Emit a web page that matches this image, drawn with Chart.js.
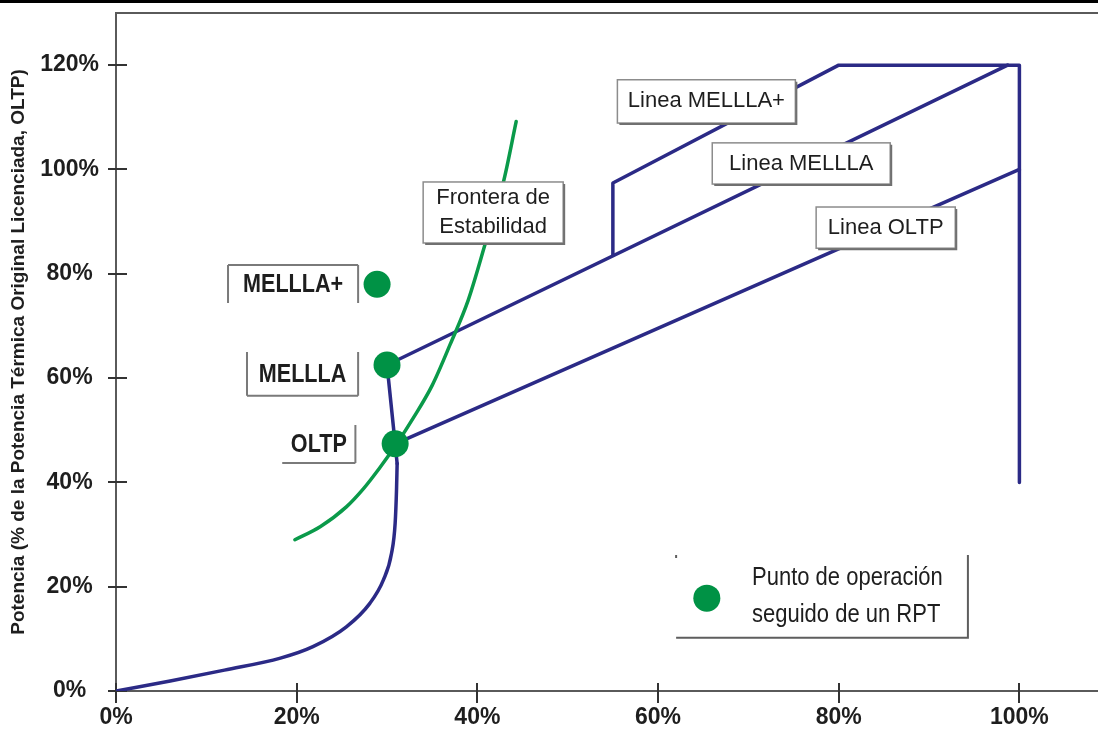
<!DOCTYPE html>
<html lang="es">
<head>
<meta charset="UTF-8">
<title>Mapa potencia - flujo</title>
<script src="https://cdn.jsdelivr.net/npm/chart.js"></script>
<style>
  html, body { margin: 0; padding: 0; background: #fff; overflow: hidden; }
  #wrap { position: relative; width: 1098px; height: 732px; }
</style>
</head>
<body>
<div id="wrap"><canvas id="mapa"></canvas></div>
<script>
// curva de arranque (barras de control)
const rodX = [0, 6.0, 12.0, 18.2, 21.8, 25.5, 28.1, 29.6, 30.5, 30.9, 31.05, 31.12];
const rodY = [0, 1.9, 4.0, 6.3, 8.5, 12.3, 16.8, 21.3, 26.4, 32.2, 38.5, 43.6];
// tramo hasta OLTP y de OLTP a MELLLA
const stepX = [31.12, 30.9, 30.0];
const stepY = [43.6, 47.4, 62.5];
// lineas de control de flujo
const oltpX = [30.9, 100];
const oltpY = [47.4, 100];
const mellaX = [30.0, 98.7];
const mellaY = [62.5, 120];
const mellaPlusX = [55, 55, 80, 100, 100];
const mellaPlusY = [83.5, 97.4, 120, 120, 40];
// frontera de estabilidad
const stabX = [19.8, 22.6, 25.5, 27.4, 29.2, 31.0, 33.0, 35.0, 37.0, 39.0, 41.0, 42.9, 44.3];
const stabY = [29.0, 31.5, 35.3, 38.8, 42.8, 47.2, 52.6, 58.6, 66.5, 75.0, 86.5, 97.7, 109.2];
// puntos de operacion seguidos de un RPT
const opNames = ['OLTP', 'MELLLA', 'MELLLA+'];
const opX = [30.9, 30.0, 28.9];
const opY = [47.4, 62.5, 78.0];
// ejes
const xMax = 108.7;
const yMax = 130;
const tickStep = 20;

const BLUE = '#2b2a86';
const GREEN = '#0a9a4a';
const DOT = '#009245';
const AXIS = '#5a5a5a';
const TXT = '#1e1e1e';
const FONT = '"Liberation Sans", Arial, sans-serif';

const pts = (xs, ys) => xs.map((x, i) => ({ x, y: ys[i] }));

// cajas de texto, en unidades de datos
const boxes = [
  { lines: ['Linea MELLLA+'], x0: 55.5, x1: 75.2, y0: 108.9, y1: 117.2 },
  { lines: ['Linea MELLLA'], x0: 66.0, x1: 85.7, y0: 97.2, y1: 105.1 },
  { lines: ['Linea OLTP'], x0: 77.5, x1: 92.9, y0: 84.9, y1: 92.8 },
  { lines: ['Frontera de', 'Estabilidad'], x0: 34.0, x1: 49.5, y0: 85.9, y1: 97.6 }
];
const brackets = [
  { text: opNames[2], x0: 12.4, x1: 26.8, y0: 74.4, y1: 81.7, sides: 'tlr' },
  { text: opNames[1], x0: 14.5, x1: 26.8, y0: 56.6, y1: 65.0, sides: 'lrb' },
  { text: opNames[0], x0: 18.4, x1: 26.5, y0: 43.7, y1: 51.0, sides: 'rb' }
];
const legendBox = { x0: 62.0, x1: 94.3, y0: 10.2, y1: 26.1, dotX: 65.4, dotY: 17.8, textX: 70.4,
  lines: ['Punto de operación', 'seguido de un RPT'], lineY: [21.7, 14.6] };

// texto algo estrecho, como en el original
function narrowText(ctx, s, x, y, sx) {
  ctx.save();
  ctx.translate(x, y);
  ctx.scale(sx, 1);
  ctx.fillText(s, 0, 0);
  ctx.restore();
}

const frame = {
  id: 'frame',
  beforeDatasetsDraw(chart) {
    const { ctx, chartArea: a, scales: { x, y } } = chart;
    ctx.save();
    ctx.fillStyle = '#000';
    ctx.fillRect(0, 0, chart.width, 3);
    ctx.strokeStyle = AXIS;
    ctx.lineWidth = 2;
    ctx.beginPath();
    ctx.moveTo(a.left, a.top); ctx.lineTo(a.right, a.top);
    ctx.stroke();
    ctx.strokeStyle = '#333';
    ctx.beginPath();
    x.ticks.forEach(t => {
      const p = Math.round(x.getPixelForValue(t.value));
      ctx.moveTo(p, a.bottom - 8); ctx.lineTo(p, a.bottom + 12);
    });
    y.ticks.forEach(t => {
      const p = Math.round(y.getPixelForValue(t.value));
      ctx.moveTo(a.left - 8, p); ctx.lineTo(a.left + 11, p);
    });
    ctx.stroke();
    ctx.restore();
  }
};

const notes = {
  id: 'notes',
  afterDatasetsDraw(chart) {
    const { ctx, scales: { x, y } } = chart;
    ctx.save();
    ctx.textAlign = 'center';
    ctx.textBaseline = 'middle';
    boxes.forEach(b => {
      const l = x.getPixelForValue(b.x0), r = x.getPixelForValue(b.x1);
      const t = y.getPixelForValue(b.y1), bt = y.getPixelForValue(b.y0);
      ctx.fillStyle = '#fff';
      ctx.fillRect(l, t, r - l, bt - t);
      ctx.strokeStyle = '#8c8c8c';
      ctx.lineWidth = 1.5;
      ctx.strokeRect(l, t, r - l, bt - t);
      ctx.strokeStyle = '#707070';
      ctx.lineWidth = 2;
      ctx.beginPath();
      ctx.moveTo(r + 1, t + 2); ctx.lineTo(r + 1, bt + 1); ctx.lineTo(l + 2, bt + 1);
      ctx.stroke();
      ctx.fillStyle = TXT;
      ctx.font = '22px ' + FONT;
      const cx = (l + r) / 2, cy = (t + bt) / 2, lh = 29;
      b.lines.forEach((s, i) => ctx.fillText(s, cx, cy + (i - (b.lines.length - 1) / 2) * lh));
    });
    brackets.forEach(b => {
      const l = x.getPixelForValue(b.x0), r = x.getPixelForValue(b.x1);
      const t = y.getPixelForValue(b.y1), bt = y.getPixelForValue(b.y0);
      ctx.strokeStyle = '#7a7a7a';
      ctx.lineWidth = 2;
      ctx.beginPath();
      if (b.sides.includes('t')) { ctx.moveTo(l, t); ctx.lineTo(r, t); }
      if (b.sides.includes('l')) { ctx.moveTo(l, t); ctx.lineTo(l, bt); }
      if (b.sides.includes('r')) { ctx.moveTo(r, t); ctx.lineTo(r, bt); }
      if (b.sides.includes('b')) { ctx.moveTo(l, bt); ctx.lineTo(r, bt); }
      ctx.stroke();
      ctx.fillStyle = TXT;
      ctx.font = 'bold 26px ' + FONT;
      narrowText(ctx, b.text, (l + r) / 2, (t + bt) / 2 + 1, 0.83);
    });
    // leyenda
    const g = legendBox;
    const l = x.getPixelForValue(g.x0), r = x.getPixelForValue(g.x1);
    const t = y.getPixelForValue(g.y1), bt = y.getPixelForValue(g.y0);
    ctx.strokeStyle = '#5e5e5e';
    ctx.lineWidth = 2;
    ctx.beginPath();
    ctx.moveTo(l, t); ctx.lineTo(l, t + 3);
    ctx.moveTo(r, t); ctx.lineTo(r, bt); ctx.lineTo(l, bt);
    ctx.stroke();
    ctx.fillStyle = DOT;
    ctx.beginPath();
    ctx.arc(x.getPixelForValue(g.dotX), y.getPixelForValue(g.dotY), 13.5, 0, Math.PI * 2);
    ctx.fill();
    ctx.fillStyle = TXT;
    ctx.textAlign = 'left';
    ctx.font = '25px ' + FONT;
    g.lines.forEach((s, i) => narrowText(ctx, s, x.getPixelForValue(g.textX), y.getPixelForValue(g.lineY[i]), 0.88));
    ctx.restore();
  }
};

const line = (data, color, width, order, mono) => ({
  data, showLine: true, borderColor: color, borderWidth: width, pointRadius: 0,
  cubicInterpolationMode: mono ? 'monotone' : 'default', tension: 0,
  order, borderCapStyle: 'round', borderJoinStyle: 'round'
});

new Chart(document.getElementById('mapa'), {
  type: 'scatter',
  data: {
    datasets: [
      { label: 'Punto de operación seguido de un RPT', data: pts(opX, opY),
        backgroundColor: DOT, borderWidth: 0, pointRadius: 13.5, order: 0 },
      line(pts(stabX, stabY), GREEN, 3.5, 1, true),
      line(pts(rodX, rodY), BLUE, 3.5, 2, true),
      line(pts(stepX, stepY), BLUE, 3.5, 2, false),
      line(pts(oltpX, oltpY), BLUE, 3.5, 2, false),
      line(pts(mellaX, mellaY), BLUE, 3.5, 2, false),
      line(pts(mellaPlusX, mellaPlusY), BLUE, 3.5, 2, false)
    ]
  },
  options: {
    responsive: true,
    maintainAspectRatio: false,
    animation: false,
    layout: { autoPadding: false, padding: { top: 13, left: 0, right: 0, bottom: 0 } },
    plugins: { legend: { display: false }, tooltip: { enabled: false } },
    scales: {
      x: {
        min: 0, max: xMax,
        grid: { drawOnChartArea: false, drawTicks: false },
        border: { color: AXIS, width: 2 },
        ticks: { stepSize: tickStep, includeBounds: false, padding: 13, color: TXT,
          font: { family: FONT, size: 23, weight: 'bold' }, callback: v => v + '%' },
        afterFit: s => { s.height = 41; s.paddingLeft = 0; s.paddingRight = 0; }
      },
      y: {
        min: 0, max: yMax,
        grid: { drawOnChartArea: false, drawTicks: false },
        border: { color: AXIS, width: 2 },
        ticks: { stepSize: tickStep, includeBounds: false, padding: 17, crossAlign: 'center', color: TXT,
          font: { family: FONT, size: 23, weight: 'bold' }, callback: v => v + '%' },
        title: { display: true, text: 'Potencia (% de la Potencia Térmica Original Licenciada, OLTP)',
          color: TXT, padding: { top: 7, bottom: 0 },
          font: { family: FONT, size: 19, weight: 'bold' } },
        afterFit: s => { s.width = 116; s.paddingTop = 0; s.paddingBottom = 0; }
      }
    }
  },
  plugins: [frame, notes]
});
</script>
</body>
</html>
